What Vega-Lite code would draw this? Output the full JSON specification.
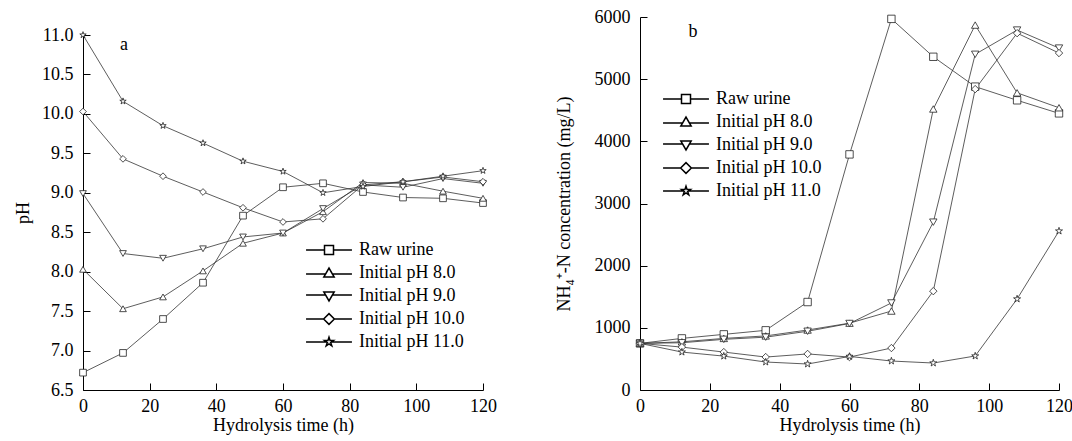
{
  "$schema": "https://vega.github.io/schema/vega-lite/v6.json",
  "padding": {"left": 14, "top": 8, "right": 5, "bottom": 5},
  "config": {
    "font": "Liberation Serif",
    "view": {"stroke": null},
    "axis": {"grid": false, "domainColor": "#000", "tickColor": "#000", "tickSize": -7, "labelFontSize": 18, "titleFontSize": 18, "labelColor": "#000", "titleColor": "#000", "titleFontWeight": "normal", "labelFont": "Liberation Serif", "titleFont": "Liberation Serif", "domainWidth": 1, "tickWidth": 1, "labelPadding": 17, "labelOverlap": false, "labelFlush": false, "labelBound": false, "tickCount": 20},
    "axisX": {"labelPadding": 14, "titlePadding": 1},
    "axisY": {"labelPadding": 17}
  },
  "spacing": 58,
  "resolve": {"scale": {"shape": "independent"}, "legend": {"shape": "independent"}},
  "datasets": {
    "ph": [
      {"series": "Raw urine", "t": 0, "v": 6.72}, {"series": "Raw urine", "t": 12, "v": 6.97}, {"series": "Raw urine", "t": 24, "v": 7.40}, {"series": "Raw urine", "t": 36, "v": 7.86}, {"series": "Raw urine", "t": 48, "v": 8.71}, {"series": "Raw urine", "t": 60, "v": 9.07}, {"series": "Raw urine", "t": 72, "v": 9.12}, {"series": "Raw urine", "t": 84, "v": 9.01}, {"series": "Raw urine", "t": 96, "v": 8.94}, {"series": "Raw urine", "t": 108, "v": 8.93}, {"series": "Raw urine", "t": 120, "v": 8.87},
      {"series": "Initial pH 8.0", "t": 0, "v": 8.03}, {"series": "Initial pH 8.0", "t": 12, "v": 7.53}, {"series": "Initial pH 8.0", "t": 24, "v": 7.68}, {"series": "Initial pH 8.0", "t": 36, "v": 8.01}, {"series": "Initial pH 8.0", "t": 48, "v": 8.36}, {"series": "Initial pH 8.0", "t": 60, "v": 8.49}, {"series": "Initial pH 8.0", "t": 72, "v": 8.76}, {"series": "Initial pH 8.0", "t": 84, "v": 9.13}, {"series": "Initial pH 8.0", "t": 96, "v": 9.12}, {"series": "Initial pH 8.0", "t": 108, "v": 9.02}, {"series": "Initial pH 8.0", "t": 120, "v": 8.93},
      {"series": "Initial pH 9.0", "t": 0, "v": 8.99}, {"series": "Initial pH 9.0", "t": 12, "v": 8.23}, {"series": "Initial pH 9.0", "t": 24, "v": 8.17}, {"series": "Initial pH 9.0", "t": 36, "v": 8.29}, {"series": "Initial pH 9.0", "t": 48, "v": 8.44}, {"series": "Initial pH 9.0", "t": 60, "v": 8.49}, {"series": "Initial pH 9.0", "t": 72, "v": 8.80}, {"series": "Initial pH 9.0", "t": 84, "v": 9.10}, {"series": "Initial pH 9.0", "t": 96, "v": 9.07}, {"series": "Initial pH 9.0", "t": 108, "v": 9.18}, {"series": "Initial pH 9.0", "t": 120, "v": 9.12},
      {"series": "Initial pH 10.0", "t": 0, "v": 10.03}, {"series": "Initial pH 10.0", "t": 12, "v": 9.43}, {"series": "Initial pH 10.0", "t": 24, "v": 9.21}, {"series": "Initial pH 10.0", "t": 36, "v": 9.01}, {"series": "Initial pH 10.0", "t": 48, "v": 8.81}, {"series": "Initial pH 10.0", "t": 60, "v": 8.63}, {"series": "Initial pH 10.0", "t": 72, "v": 8.67}, {"series": "Initial pH 10.0", "t": 84, "v": 9.10}, {"series": "Initial pH 10.0", "t": 96, "v": 9.14}, {"series": "Initial pH 10.0", "t": 108, "v": 9.20}, {"series": "Initial pH 10.0", "t": 120, "v": 9.14},
      {"series": "Initial pH 11.0", "t": 0, "v": 11.0}, {"series": "Initial pH 11.0", "t": 12, "v": 10.16}, {"series": "Initial pH 11.0", "t": 24, "v": 9.85}, {"series": "Initial pH 11.0", "t": 36, "v": 9.63}, {"series": "Initial pH 11.0", "t": 48, "v": 9.40}, {"series": "Initial pH 11.0", "t": 60, "v": 9.27}, {"series": "Initial pH 11.0", "t": 72, "v": 9.00}, {"series": "Initial pH 11.0", "t": 84, "v": 9.08}, {"series": "Initial pH 11.0", "t": 96, "v": 9.14}, {"series": "Initial pH 11.0", "t": 108, "v": 9.21}, {"series": "Initial pH 11.0", "t": 120, "v": 9.28}
    ],
    "nh": [
      {"series": "Raw urine", "t": 0, "v": 750}, {"series": "Raw urine", "t": 12, "v": 830}, {"series": "Raw urine", "t": 24, "v": 895}, {"series": "Raw urine", "t": 36, "v": 960}, {"series": "Raw urine", "t": 48, "v": 1415}, {"series": "Raw urine", "t": 60, "v": 3790}, {"series": "Raw urine", "t": 72, "v": 5970}, {"series": "Raw urine", "t": 84, "v": 5360}, {"series": "Raw urine", "t": 96, "v": 4880}, {"series": "Raw urine", "t": 108, "v": 4660}, {"series": "Raw urine", "t": 120, "v": 4450},
      {"series": "Initial pH 8.0", "t": 0, "v": 750}, {"series": "Initial pH 8.0", "t": 12, "v": 775}, {"series": "Initial pH 8.0", "t": 24, "v": 830}, {"series": "Initial pH 8.0", "t": 36, "v": 870}, {"series": "Initial pH 8.0", "t": 48, "v": 965}, {"series": "Initial pH 8.0", "t": 60, "v": 1075}, {"series": "Initial pH 8.0", "t": 72, "v": 1270}, {"series": "Initial pH 8.0", "t": 84, "v": 4520}, {"series": "Initial pH 8.0", "t": 96, "v": 5870}, {"series": "Initial pH 8.0", "t": 108, "v": 4780}, {"series": "Initial pH 8.0", "t": 120, "v": 4540},
      {"series": "Initial pH 9.0", "t": 0, "v": 750}, {"series": "Initial pH 9.0", "t": 12, "v": 760}, {"series": "Initial pH 9.0", "t": 24, "v": 815}, {"series": "Initial pH 9.0", "t": 36, "v": 850}, {"series": "Initial pH 9.0", "t": 48, "v": 945}, {"series": "Initial pH 9.0", "t": 60, "v": 1070}, {"series": "Initial pH 9.0", "t": 72, "v": 1400}, {"series": "Initial pH 9.0", "t": 84, "v": 2700}, {"series": "Initial pH 9.0", "t": 96, "v": 5400}, {"series": "Initial pH 9.0", "t": 108, "v": 5790}, {"series": "Initial pH 9.0", "t": 120, "v": 5500},
      {"series": "Initial pH 10.0", "t": 0, "v": 750}, {"series": "Initial pH 10.0", "t": 12, "v": 690}, {"series": "Initial pH 10.0", "t": 24, "v": 610}, {"series": "Initial pH 10.0", "t": 36, "v": 530}, {"series": "Initial pH 10.0", "t": 48, "v": 580}, {"series": "Initial pH 10.0", "t": 60, "v": 530}, {"series": "Initial pH 10.0", "t": 72, "v": 675}, {"series": "Initial pH 10.0", "t": 84, "v": 1590}, {"series": "Initial pH 10.0", "t": 96, "v": 4840}, {"series": "Initial pH 10.0", "t": 108, "v": 5740}, {"series": "Initial pH 10.0", "t": 120, "v": 5420},
      {"series": "Initial pH 11.0", "t": 0, "v": 750}, {"series": "Initial pH 11.0", "t": 12, "v": 610}, {"series": "Initial pH 11.0", "t": 24, "v": 545}, {"series": "Initial pH 11.0", "t": 36, "v": 450}, {"series": "Initial pH 11.0", "t": 48, "v": 418}, {"series": "Initial pH 11.0", "t": 60, "v": 540}, {"series": "Initial pH 11.0", "t": 72, "v": 466}, {"series": "Initial pH 11.0", "t": 84, "v": 434}, {"series": "Initial pH 11.0", "t": 96, "v": 547}, {"series": "Initial pH 11.0", "t": 108, "v": 1464}, {"series": "Initial pH 11.0", "t": 120, "v": 2557}
    ]
  },
  "hconcat": [
    {
      "spacing": 8,
      "vconcat": [
        {
          "width": 400,
          "height": 1,
          "data": {"values": [{"k": 1}]},
          "mark": {"type": "rule", "opacity": 0},
          "encoding": {}
        },
        {
          "width": 400,
          "height": 355,
          "resolve": {"scale": {"shape": "independent"}, "legend": {"shape": "independent"}},
          "layer": [
            {
              "data": {"name": "ph"},
              "mark": {"type": "line", "stroke": "#333", "strokeWidth": 0.8},
              "encoding": {
                "x": {"field": "t", "type": "quantitative", "scale": {"domain": [0, 120]}, "axis": {"values": [0, 20, 40, 60, 80, 100, 120], "title": "Hydrolysis time (h)"}},
                "y": {"field": "v", "type": "quantitative", "scale": {"domain": [6.5, 11], "zero": false}, "axis": {"values": [6.5, 7, 7.5, 8, 8.5, 9, 9.5, 10, 10.5, 11], "tickCount": 20, "format": ".1f", "title": "pH", "titlePadding": 9}},
                "detail": {"field": "series"},
                "order": {"field": "t"}
              }
            },
            {
              "data": {"name": "ph"},
              "mark": {"type": "point", "filled": true, "fill": "white", "stroke": "#222", "strokeWidth": 0.8, "opacity": 1, "size": 45},
              "encoding": {
                "x": {"field": "t", "type": "quantitative"},
                "y": {"field": "v", "type": "quantitative"},
                "shape": {
                  "field": "series", "type": "nominal",
                  "scale": {"domain": ["Raw urine", "Initial pH 8.0", "Initial pH 9.0", "Initial pH 10.0", "Initial pH 11.0"], "range": ["square", "triangle-up", "triangle-down", "diamond", "M0,-1L0.2245,-0.309L0.951,-0.309L0.363,0.118L0.588,0.809L0,0.382L-0.588,0.809L-0.363,0.118L-0.951,-0.309L-0.2245,-0.309Z"]},
                  "legend": null
                }
              }
            },
            {
              "data": {"name": "ph"},
              "transform": [{"filter": "false"}],
              "mark": {"type": "point", "filled": true, "fill": "white", "stroke": "#000", "strokeWidth": 0.8, "opacity": 1, "size": 81},
              "encoding": {
                "x": {"field": "t", "type": "quantitative"},
                "y": {"field": "v", "type": "quantitative"},
                "shape": {
                  "field": "series", "type": "nominal",
                  "scale": {"domain": ["Raw urine", "Initial pH 8.0", "Initial pH 9.0", "Initial pH 10.0", "Initial pH 11.0"], "range": ["M-5.1,0H-1V-1H1V0H5.1M1,0V1H-1V0", "M-5.1,0.2H-0.7475L0,-1.1L0.7475,0.2H5.1M0.7475,0.2L1.15,0.9H-1.15L-0.7475,0.2", "M-5.1,-0.2H-0.7475L0,1.1L0.7475,-0.2H5.1M0.7475,-0.2L1.15,-0.9H-1.15L-0.7475,-0.2", "M-5.1,0H-1.2L0,-1.2L1.2,0H5.1M1.2,0L0,1.2L-1.2,0", "M-5.1,0H-0.552L-0.999,-0.324L-0.236,-0.324L0,-1.05L0.236,-0.324L0.999,-0.324L0.552,0H5.1M0.552,0L0.381,0.124L0.617,0.849L0,0.401L-0.617,0.849L-0.381,0.124L-0.552,0"]},
                  "legend": {
                    "title": null, "orient": "none", "legendX": 237, "legendY": 206,
                    "symbolSize": 81, "labelFontSize": 18, "labelFont": "Liberation Serif", "labelColor": "#000", "labelOffset": 21, "rowPadding": 5
                  }
                }
              }
            },
            {
              "data": {"values": [{"t": 12.3, "v": 10.87, "label": "a"}]},
              "mark": {"type": "text", "fontSize": 18, "font": "Liberation Serif", "align": "center", "baseline": "middle", "color": "#000"},
              "encoding": {
                "x": {"field": "t", "type": "quantitative"},
                "y": {"field": "v", "type": "quantitative"},
                "text": {"field": "label"}
              }
            }
          ]
        }
      ]
    },
    {
      "width": 419,
      "height": 373,
      "resolve": {"scale": {"shape": "independent"}, "legend": {"shape": "independent"}},
      "layer": [
        {
          "data": {"name": "nh"},
          "mark": {"type": "line", "stroke": "#333", "strokeWidth": 0.8},
          "encoding": {
            "x": {"field": "t", "type": "quantitative", "scale": {"domain": [0, 120]}, "axis": {"values": [0, 20, 40, 60, 80, 100, 120], "title": "Hydrolysis time (h)"}},
            "y": {"field": "v", "type": "quantitative", "scale": {"domain": [0, 6000]}, "axis": {"values": [0, 1000, 2000, 3000, 4000, 5000, 6000], "format": "d", "title": "NH₄⁺-N concentration (mg/L)", "titlePadding": 21}},
            "detail": {"field": "series"},
            "order": {"field": "t"}
          }
        },
        {
          "data": {"name": "nh"},
          "mark": {"type": "point", "filled": true, "fill": "white", "stroke": "#222", "strokeWidth": 0.8, "opacity": 1, "size": 55},
          "encoding": {
            "x": {"field": "t", "type": "quantitative"},
            "y": {"field": "v", "type": "quantitative"},
            "shape": {
              "field": "series", "type": "nominal",
              "scale": {"domain": ["Raw urine", "Initial pH 8.0", "Initial pH 9.0", "Initial pH 10.0", "Initial pH 11.0"], "range": ["square", "triangle-up", "triangle-down", "diamond", "M0,-1L0.2245,-0.309L0.951,-0.309L0.363,0.118L0.588,0.809L0,0.382L-0.588,0.809L-0.363,0.118L-0.951,-0.309L-0.2245,-0.309Z"]},
              "legend": null
            }
          }
        },
        {
          "data": {"name": "nh"},
          "transform": [{"filter": "false"}],
          "mark": {"type": "point", "filled": true, "fill": "white", "stroke": "#000", "strokeWidth": 0.8, "opacity": 1, "size": 81},
          "encoding": {
            "x": {"field": "t", "type": "quantitative"},
            "y": {"field": "v", "type": "quantitative"},
            "shape": {
              "field": "series", "type": "nominal",
              "scale": {"domain": ["Raw urine", "Initial pH 8.0", "Initial pH 9.0", "Initial pH 10.0", "Initial pH 11.0"], "range": ["M-5.1,0H-1V-1H1V0H5.1M1,0V1H-1V0", "M-5.1,0.2H-0.7475L0,-1.1L0.7475,0.2H5.1M0.7475,0.2L1.15,0.9H-1.15L-0.7475,0.2", "M-5.1,-0.2H-0.7475L0,1.1L0.7475,-0.2H5.1M0.7475,-0.2L1.15,-0.9H-1.15L-0.7475,-0.2", "M-5.1,0H-1.2L0,-1.2L1.2,0H5.1M1.2,0L0,1.2L-1.2,0", "M-5.1,0H-0.552L-0.999,-0.324L-0.236,-0.324L0,-1.05L0.236,-0.324L0.999,-0.324L0.552,0H5.1M0.552,0L0.381,0.124L0.617,0.849L0,0.401L-0.617,0.849L-0.381,0.124L-0.552,0"]},
              "legend": {
                "title": null, "orient": "none", "legendX": 37, "legendY": 73,
                "symbolSize": 81, "labelFontSize": 18, "labelFont": "Liberation Serif", "labelColor": "#000", "labelOffset": 21, "rowPadding": 5
              }
            }
          }
        },
        {
          "data": {"values": [{"t": 15.2, "v": 5760, "label": "b"}]},
          "mark": {"type": "text", "fontSize": 18, "font": "Liberation Serif", "align": "center", "baseline": "middle", "color": "#000"},
          "encoding": {
            "x": {"field": "t", "type": "quantitative"},
            "y": {"field": "v", "type": "quantitative"},
            "text": {"field": "label"}
          }
        }
      ]
    }
  ]
}
